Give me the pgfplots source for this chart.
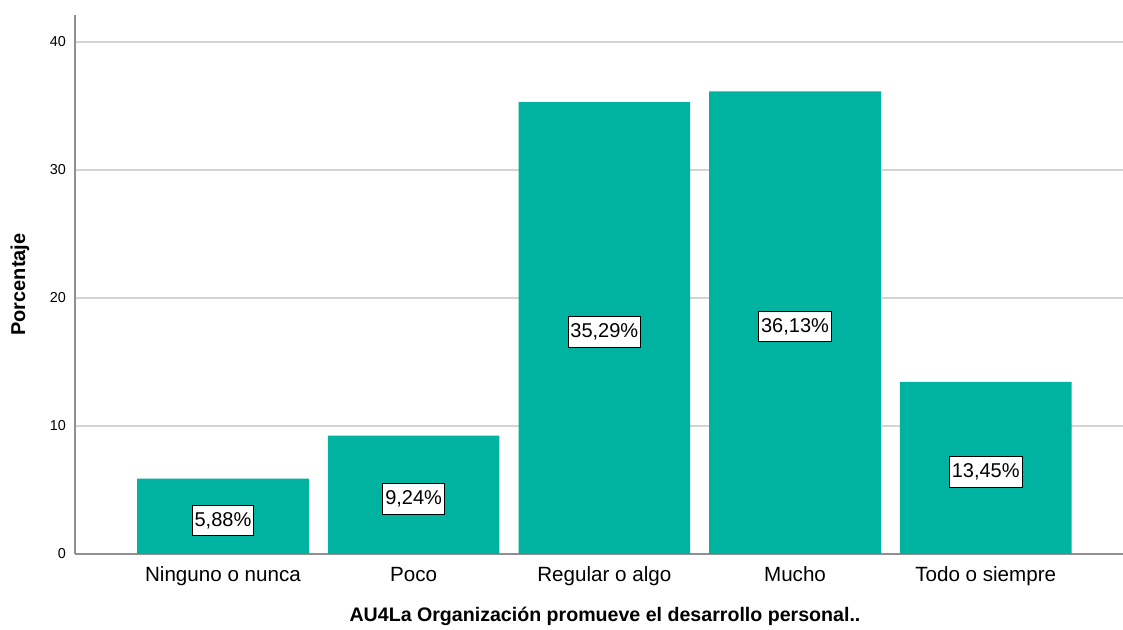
\documentclass[border=0pt]{standalone}
\usepackage{pgfplots}
\pgfplotsset{compat=1.18}
\usepackage{pgfplotstable}
\usepackage{fontspec}
\setmainfont{Liberation Sans}

\definecolor{barteal}{HTML}{00B2A0}
\definecolor{gridgray}{HTML}{D4D4D4}
\definecolor{axgray}{HTML}{909090}

% porcentajes por categoria
\pgfplotstableread{
x  y
0  5.88
1  9.24
2  35.29
3  36.13
4  13.45
}\bardata

% etiquetas a media altura de cada barra
\pgfplotstableread{
x  ymid    lab
0  2.94    5,88\%
1  4.62    9,24\%
2  17.645  35,29\%
3  18.065  36,13\%
4  6.725   13,45\%
}\labdata

\begin{document}
\begin{tikzpicture}
\begin{axis}[
    scale only axis,
    width=524pt, height=269.5pt,
    xmin=-0.776, xmax=4.72,
    ymin=0, ymax=42.1,
    axis x line*=bottom, axis y line*=left,
    axis line style={-, axgray, line width=1pt},
    ymajorgrids, grid style={gridgray, line width=1pt},
    major tick length=0pt,
    ytick={0,10,20,30,40},
    xtick={0,1,2,3,4},
    xticklabels={Ninguno o nunca, Poco, Regular o algo, Mucho, Todo o siempre},
    yticklabel style={font=\fontsize{7.2}{8}\selectfont, xshift=-1pt},
    xticklabel style={font=\fontsize{10.3}{12}\selectfont, yshift=-3pt},
    /pgf/number format/assume math mode=true,
    xlabel={AU4La Organización promueve el desarrollo personal..},
    ylabel={Porcentaje},
    xlabel style={font=\bfseries\fontsize{9.8}{12}\selectfont, at={(rel axis cs:0.5,0)}, anchor=center, yshift=-31pt, xshift=3pt},
    ylabel style={font=\bfseries\fontsize{10}{12}\selectfont, at={(rel axis cs:0,0.5)}, anchor=center, yshift=27.5pt},
    clip=false,
]
\addplot[ybar, bar width=0.9, fill=barteal, draw=none] table[x=x, y=y] {\bardata};
\addplot[only marks, mark=none,
    point meta=explicit symbolic,
    nodes near coords,
    every node near coord/.style={anchor=center, fill=white, draw=black, line width=0.5pt,
        inner xsep=1.2pt, inner ysep=3.5pt, yshift=-2pt, font=\fontsize{10}{12}\selectfont},
] table[x=x, y=ymid, meta=lab] {\labdata};
\coordinate (bl) at (rel axis cs:0,0);
\coordinate (tr) at (rel axis cs:1,1);
\end{axis}
\pgfresetboundingbox
\path ([xshift=-37.5pt, yshift=-38pt]bl) rectangle ([yshift=7.5pt]tr);
\end{tikzpicture}
\end{document}
